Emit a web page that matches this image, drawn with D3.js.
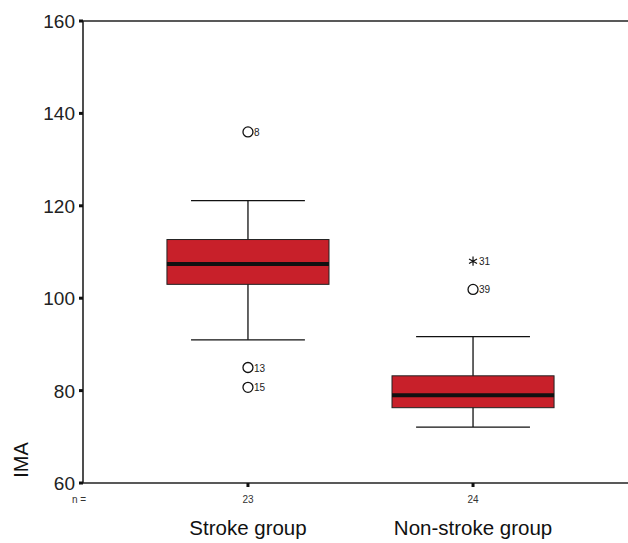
<!DOCTYPE html>
<html>
<head>
<meta charset="utf-8">
<script src="https://cdn.jsdelivr.net/npm/d3@7"></script>
<style>
  html, body { margin: 0; padding: 0; background: #fff; }
  svg { display: block; font-family: "Liberation Sans", Arial, sans-serif; }
</style>
</head>
<body>
<svg id="chart" width="628" height="543"></svg>
<script>
// data
const groups = ["Stroke group", "Non-stroke group"];
const groupN = [23, 24];
const whiskerLow = [91, 72.1];
const q1 = [103, 76.3];
const median = [107.4, 79];
const q3 = [112.7, 83.2];
const whiskerHigh = [121.1, 91.7];
const outliers = [
  { group: "Stroke group", value: 136, label: "8", kind: "circle" },
  { group: "Stroke group", value: 85, label: "13", kind: "circle" },
  { group: "Stroke group", value: 80.7, label: "15", kind: "circle" },
  { group: "Non-stroke group", value: 108, label: "31", kind: "star" },
  { group: "Non-stroke group", value: 101.9, label: "39", kind: "circle" },
];
const yTicks = [60, 80, 100, 120, 140, 160];

const svg = d3.select("#chart");
const plot = { left: 83, top: 21, right: 638, bottom: 483 };

const y = d3.scaleLinear().domain([60, 160]).range([plot.bottom, plot.top]);
const x = d3.scalePoint().domain(groups).range([plot.left, plot.right]).padding(0.733);
const step = x.step();
const boxHalf = step * 0.36;
const capHalf = step * 0.253;

const boxes = groups.map((g, i) => ({
  group: g,
  n: groupN[i],
  lo: whiskerLow[i],
  q1: q1[i],
  med: median[i],
  q3: q3[i],
  hi: whiskerHigh[i],
}));

// frame
svg.append("line")
  .attr("x1", plot.left).attr("x2", plot.right)
  .attr("y1", plot.top).attr("y2", plot.top)
  .attr("stroke", "#222").attr("stroke-width", 1.6);
svg.append("line")
  .attr("x1", plot.left).attr("x2", plot.right)
  .attr("y1", plot.bottom).attr("y2", plot.bottom)
  .attr("stroke", "#222").attr("stroke-width", 1.6);
svg.append("line")
  .attr("x1", plot.left).attr("x2", plot.left)
  .attr("y1", plot.top).attr("y2", plot.bottom)
  .attr("stroke", "#222").attr("stroke-width", 1.6);

// y ticks
const yAxis = svg.append("g");
yAxis.selectAll("rect")
  .data(yTicks)
  .join("rect")
  .attr("x", plot.left - 4)
  .attr("y", (d) => y(d) - 1.5)
  .attr("width", 4)
  .attr("height", 3)
  .attr("fill", "#111");
yAxis.selectAll("text")
  .data(yTicks)
  .join("text")
  .attr("x", plot.left - 8)
  .attr("y", (d) => y(d) + 7)
  .attr("text-anchor", "end")
  .attr("font-size", 19)
  .attr("fill", "#222")
  .text((d) => d);

svg.append("text")
  .attr("transform", `translate(28, ${y(60) - 23}) rotate(-90)`)
  .attr("text-anchor", "middle")
  .attr("font-size", 20)
  .attr("fill", "#111")
  .text("IMA");

// x ticks and n labels
svg.selectAll(".xtick")
  .data(boxes)
  .join("rect")
  .attr("class", "xtick")
  .attr("x", (d) => x(d.group) - 1.5)
  .attr("y", plot.bottom)
  .attr("width", 3)
  .attr("height", 4)
  .attr("fill", "#111");

svg.selectAll(".nlabel")
  .data(boxes)
  .join("text")
  .attr("class", "nlabel")
  .attr("x", (d) => x(d.group))
  .attr("y", 503)
  .attr("text-anchor", "middle")
  .attr("font-size", 10)
  .attr("fill", "#333")
  .text((d) => d.n);

svg.append("text")
  .attr("x", 72).attr("y", 503)
  .attr("font-size", 10)
  .attr("fill", "#333")
  .text("n =");

svg.selectAll(".glabel")
  .data(groups)
  .join("text")
  .attr("class", "glabel")
  .attr("x", (d) => x(d))
  .attr("y", 535)
  .attr("text-anchor", "middle")
  .attr("font-size", 20.5)
  .attr("fill", "#111")
  .text((d) => d);

// boxplots
const box = svg.append("g").selectAll("g")
  .data(boxes)
  .join("g");

box.append("line")
  .attr("x1", (d) => x(d.group)).attr("x2", (d) => x(d.group))
  .attr("y1", (d) => y(d.hi)).attr("y2", (d) => y(d.lo))
  .attr("stroke", "#111").attr("stroke-width", 1.3);
box.append("line")
  .attr("x1", (d) => x(d.group) - capHalf).attr("x2", (d) => x(d.group) + capHalf)
  .attr("y1", (d) => y(d.hi)).attr("y2", (d) => y(d.hi))
  .attr("stroke", "#111").attr("stroke-width", 1.3);
box.append("line")
  .attr("x1", (d) => x(d.group) - capHalf).attr("x2", (d) => x(d.group) + capHalf)
  .attr("y1", (d) => y(d.lo)).attr("y2", (d) => y(d.lo))
  .attr("stroke", "#111").attr("stroke-width", 1.3);
box.append("rect")
  .attr("x", (d) => x(d.group) - boxHalf)
  .attr("y", (d) => y(d.q3))
  .attr("width", boxHalf * 2)
  .attr("height", (d) => y(d.q1) - y(d.q3))
  .attr("fill", "#c8202a")
  .attr("stroke", "#222")
  .attr("stroke-width", 1);
box.append("line")
  .attr("x1", (d) => x(d.group) - boxHalf).attr("x2", (d) => x(d.group) + boxHalf)
  .attr("y1", (d) => y(d.med)).attr("y2", (d) => y(d.med))
  .attr("stroke", "#111").attr("stroke-width", 4);

// outliers
const out = svg.append("g").selectAll("g")
  .data(outliers)
  .join("g")
  .attr("transform", (d) => `translate(${x(d.group)}, ${y(d.value)})`);

out.filter((d) => d.kind === "circle")
  .append("circle")
  .attr("r", 5)
  .attr("fill", "none")
  .attr("stroke", "#111")
  .attr("stroke-width", 1.3);
out.filter((d) => d.kind === "star")
  .append("path")
  .attr("d", d3.symbol(d3.symbolAsterisk, 60))
  .attr("fill", "none")
  .attr("stroke", "#111")
  .attr("stroke-width", 1.2);
out.append("text")
  .attr("x", 6)
  .attr("y", 4)
  .attr("font-size", 10)
  .attr("fill", "#222")
  .text((d) => d.label);
</script>
</body>
</html>
